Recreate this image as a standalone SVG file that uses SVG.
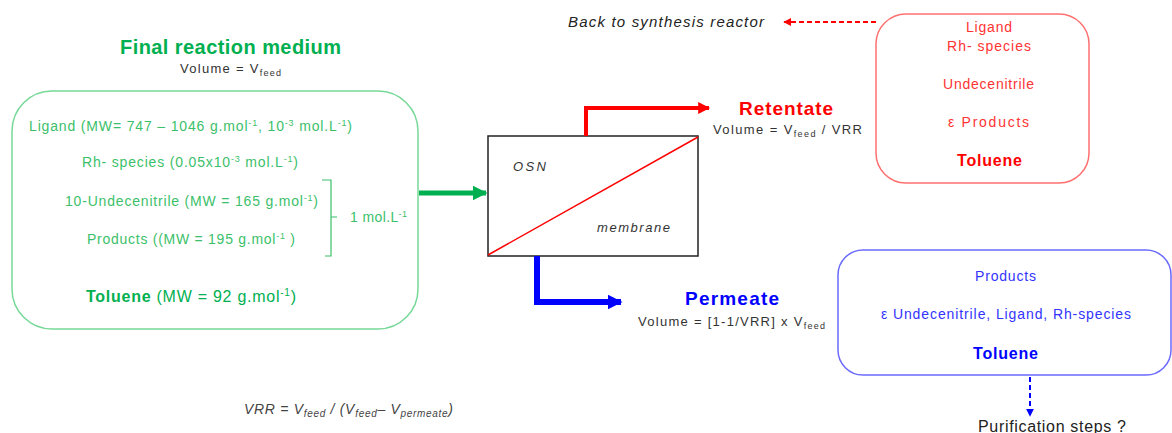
<svg xmlns="http://www.w3.org/2000/svg" width="1172" height="433" viewBox="0 0 1172 433">
<defs>
<style>
text{font-family:"Liberation Sans",Arial,sans-serif}
.g{fill:#3cbf6a;font-size:14px}
.gb{fill:#00b050;font-weight:bold}
.dk{fill:#333;font-size:13px}
.it{font-style:italic}
.r{fill:#ff3333;font-size:14px}
.b{fill:#3333ff;font-size:14px}
</style>
<marker id="ag" viewBox="0 0 10 10" refX="9" refY="5" markerWidth="3" markerHeight="3" orient="auto" markerUnits="strokeWidth"><path d="M0,0L10,5L0,10z" fill="#00b050"/></marker>
<marker id="ar" viewBox="0 0 10 10" refX="9" refY="5" markerWidth="3" markerHeight="3" orient="auto" markerUnits="strokeWidth"><path d="M0,0L10,5L0,10z" fill="#ff0000"/></marker>
<marker id="ab" viewBox="0 0 10 10" refX="9" refY="5" markerWidth="2.5" markerHeight="2.5" orient="auto" markerUnits="strokeWidth"><path d="M0,0L10,5L0,10z" fill="#0000ff"/></marker>
<marker id="ard" viewBox="0 0 10 10" refX="9" refY="5" markerWidth="4" markerHeight="4" orient="auto" markerUnits="strokeWidth"><path d="M0,0L10,5L0,10z" fill="#ff0000"/></marker>
<marker id="abd" viewBox="0 0 10 10" refX="9" refY="5" markerWidth="4" markerHeight="4" orient="auto" markerUnits="strokeWidth"><path d="M0,0L10,5L0,10z" fill="#0000ff"/></marker>
</defs>

<g id="feed">
<text x="120" y="54" class="gb" font-size="20" textLength="221" lengthAdjust="spacing">Final reaction medium</text>
<text x="180" y="73" class="dk" textLength="101" lengthAdjust="spacing">Volume = V<tspan font-size="9" dy="3">feed</tspan></text>
<rect x="12" y="91" width="406" height="238" rx="40" fill="none" stroke="#77d898" stroke-width="1.5"/>
<text x="29" y="131" class="g" textLength="323" lengthAdjust="spacing">Ligand (MW= 747 – 1046 g.mol<tspan font-size="9" dy="-5">-1</tspan><tspan dy="5">, 10</tspan><tspan font-size="9" dy="-5">-3</tspan><tspan dy="5"> mol.L</tspan><tspan font-size="9" dy="-5">-1</tspan><tspan dy="5">)</tspan></text>
<text x="82" y="167" class="g" textLength="216" lengthAdjust="spacing">Rh- species (0.05x10<tspan font-size="9" dy="-5">-3</tspan><tspan dy="5"> mol.L</tspan><tspan font-size="9" dy="-5">-1</tspan><tspan dy="5">)</tspan></text>
<text x="65" y="206" class="g" textLength="253" lengthAdjust="spacing">10-Undecenitrile (MW = 165 g.mol<tspan font-size="9" dy="-5">-1</tspan><tspan dy="5">)</tspan></text>
<text x="87" y="244" class="g" textLength="208" lengthAdjust="spacing">Products ((MW = 195 g.mol<tspan font-size="9" dy="-5">-1</tspan><tspan dy="5"> )</tspan></text>
<path d="M322,180H331V256H325M331,217H337" fill="none" stroke="#3cbf6a" stroke-width="1.2"/>
<text x="350" y="222" class="g" textLength="57" lengthAdjust="spacing">1 mol.L<tspan font-size="9" dy="-5">-1</tspan></text>
<text x="86" y="302" fill="#00b050" font-size="16" textLength="210" lengthAdjust="spacing"><tspan font-weight="bold">Toluene</tspan> (MW = 92 g.mol<tspan font-size="10" dy="-6">-1</tspan><tspan dy="6">)</tspan></text>
</g>

<g id="osn">
<rect x="488" y="136" width="210" height="120" fill="#fff" stroke="#222" stroke-width="1.5"/>
<line x1="488" y1="255" x2="698" y2="137" stroke="#ff0000" stroke-width="1.5"/>
<text x="513" y="171" class="dk it" textLength="33" lengthAdjust="spacing">OSN</text>
<text x="597" y="232" class="dk it" textLength="73" lengthAdjust="spacing">membrane</text>
</g>

<g id="retentate-label">
<text x="739" y="115" fill="#ff0000" font-size="19" font-weight="bold" textLength="94" lengthAdjust="spacing">Retentate</text>
<text x="713" y="134" class="dk" textLength="149" lengthAdjust="spacing">Volume = V<tspan font-size="9" dy="3">feed</tspan><tspan dy="-3"> / VRR</tspan></text>
</g>

<g id="permeate-label">
<text x="685" y="305" fill="#0000ff" font-size="19" font-weight="bold" textLength="94" lengthAdjust="spacing">Permeate</text>
<text x="638" y="326" class="dk" textLength="187" lengthAdjust="spacing">Volume = [1-1/VRR] x V<tspan font-size="9" dy="3">feed</tspan></text>
</g>

<g id="retentate-box">
<rect x="876" y="14" width="213" height="169" rx="30" fill="none" stroke="#ff7070" stroke-width="1.5"/>
<text x="966" y="32" class="r" textLength="46" lengthAdjust="spacing">Ligand</text>
<text x="947" y="51" class="r" textLength="84" lengthAdjust="spacing">Rh- species</text>
<text x="943" y="89" class="r" textLength="91" lengthAdjust="spacing">Undecenitrile</text>
<text x="948" y="127" class="r" textLength="81" lengthAdjust="spacing">ε   Products</text>
<text x="957" y="166" fill="#ff0000" font-size="16" font-weight="bold" textLength="65" lengthAdjust="spacing">Toluene</text>
</g>

<g id="back-label">
<text x="568" y="27" class="it" fill="#222" font-size="15" textLength="196" lengthAdjust="spacing">Back to synthesis reactor</text>
</g>

<g id="permeate-box">
<rect x="838" y="250" width="333" height="125" rx="25" fill="none" stroke="#6a6aff" stroke-width="1.5"/>
<text x="975" y="281" class="b" textLength="61" lengthAdjust="spacing">Products</text>
<text x="881" y="319" class="b" textLength="250" lengthAdjust="spacing">ε  Undecenitrile, Ligand, Rh-species</text>
<text x="973" y="359" fill="#0000ff" font-size="16" font-weight="bold" textLength="65" lengthAdjust="spacing">Toluene</text>
</g>

<g id="purification">
<text x="978" y="432" fill="#222" font-size="16" textLength="148" lengthAdjust="spacing">Purification steps ?</text>
</g>

<g id="vrr">
<text x="244" y="414" class="it" fill="#444" font-size="14" textLength="209" lengthAdjust="spacing">VRR = V<tspan font-size="10" dy="3">feed</tspan><tspan dy="-3"> / (V</tspan><tspan font-size="10" dy="3">feed</tspan><tspan dy="-3">– V</tspan><tspan font-size="10" dy="3">permeate</tspan><tspan dy="-3">)</tspan></text>
</g>

<g id="connectors">
<line x1="419" y1="193" x2="486" y2="193" stroke="#00b050" stroke-width="5" marker-end="url(#ag)"/>
<path d="M586,136V108H709" fill="none" stroke="#ff0000" stroke-width="4" marker-end="url(#ar)"/>
<path d="M537,256V302H621" fill="none" stroke="#0000ff" stroke-width="6" marker-end="url(#ab)"/>
<line x1="876" y1="22" x2="784" y2="22" stroke="#ff0000" stroke-width="2" stroke-dasharray="5,3" marker-end="url(#ard)"/>
<line x1="1030" y1="377" x2="1030" y2="416" stroke="#0000ff" stroke-width="2" stroke-dasharray="5,3" marker-end="url(#abd)"/>
</g>
</svg>
